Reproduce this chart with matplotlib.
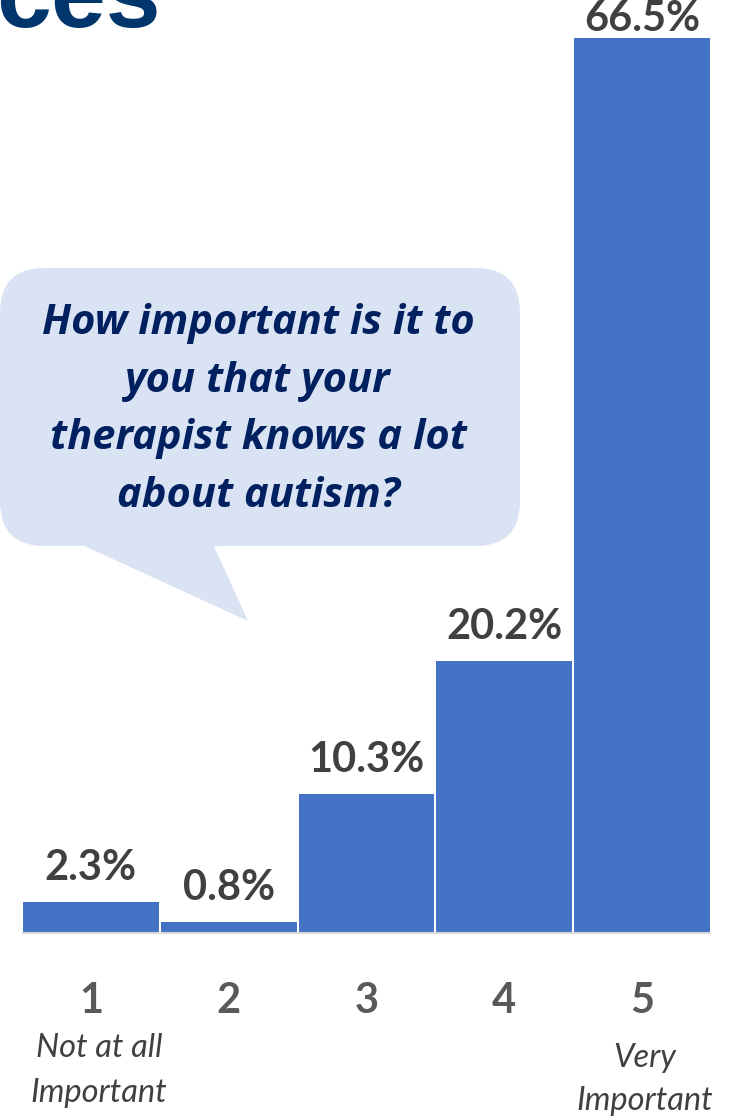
import matplotlib
matplotlib.use("Agg")
import matplotlib.pyplot as plt
from matplotlib.patches import FancyBboxPatch, Polygon

categories = ["1", "2", "3", "4", "5"]
values = [2.3, 0.8, 10.3, 20.2, 66.5]
value_labels = ["2.3%", "0.8%", "10.3%", "20.2%", "66.5%"]
end_labels = {0: "Not at all\nImportant", 4: "Very\nImportant"}
question = "How important is it to\nyou that your\ntherapist knows a lot\nabout autism?"
title_fragment = "ces"

W, H = 743, 1116
fig = plt.figure(figsize=(W / 100, H / 100), dpi=100)
fig.patch.set_facecolor("white")

def fx(px):
    return px / W

def fy(py):
    return 1 - py / H

# axes: x from 23 to 710 px, baseline y=933, top(66.5) at y=38
ax = fig.add_axes([fx(23), fy(933), fx(710) - fx(23), (933 - 38) / H])
x = list(range(len(categories)))
width = 136 / 138
ax.bar(x, values, width=width, color="#4472C4", zorder=2)
ax.set_xlim(-width / 2, len(categories) - 1 + width / 2)
ax.set_ylim(0, 66.5)
for s in ["top", "right", "left"]:
    ax.spines[s].set_visible(False)
ax.spines["bottom"].set_color("#D9D9D9")
ax.spines["bottom"].set_linewidth(1.5)
ax.set_yticks([])
ax.set_xticks(x)
ax.set_xticklabels(categories, fontsize=30, fontweight="bold", color="#595959",
                   family="Lato")
ax.tick_params(axis="x", length=0, pad=35)

ymax = ax.get_ylim()[1]
for xi, v, lab in zip(x, values, value_labels):
    off = 11 if v < ymax * 0.9 else 0
    ax.annotate(lab, (xi, v), xytext=(0, off), textcoords="offset points",
                ha="center", va="bottom", fontsize=30, fontweight="bold",
                color="#404040", family="Lato", clip_on=False)

# end labels
ax.text(0.06, -0.112, end_labels[0], transform=ax.get_xaxis_transform(),
        ha="center", va="top", fontsize=23.5, style="italic", color="#404040",
        family="Lato", linespacing=1.6)
ax.text(4.02, -0.123, end_labels[4], transform=ax.get_xaxis_transform(),
        ha="center", va="top", fontsize=23.5, style="italic", color="#404040",
        family="Lato", linespacing=1.52)

# speech bubble
bubble_color = "#DAE3F3"
box = FancyBboxPatch((fx(0), fy(546)), fx(520) - fx(0), fy(268) - fy(546),
                     boxstyle="round,pad=0,rounding_size=0.06",
                     transform=fig.transFigure, facecolor=bubble_color,
                     edgecolor="none", zorder=3, mutation_aspect=W / H)
fig.patches.append(box)
tail = Polygon([(fx(80), fy(544)), (fx(213), fy(544)), (fx(248), fy(621))],
               closed=True, transform=fig.transFigure, facecolor=bubble_color,
               edgecolor="none", zorder=3)
fig.patches.append(tail)
fig.text(fx(258), fy(410), question, ha="center", va="center", fontsize=30,
         fontweight="bold", style="italic", color="#002060", family="Open Sans",
         linespacing=1.53, zorder=4)

# cut-off title fragment
fig.text(fx(-4), fy(27), title_fragment, ha="left", va="baseline", fontsize=71,
         fontweight="bold", color="#00366B", family="Liberation Sans")

fig.savefig("out.png", dpi=100)
